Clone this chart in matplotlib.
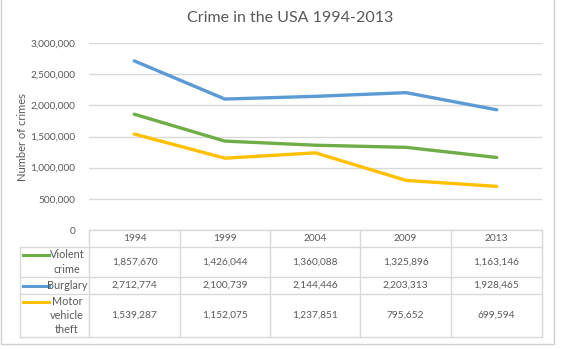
import matplotlib.pyplot as plt
from matplotlib.lines import Line2D

plt.rcParams['font.family'] = ['Lato', 'DejaVu Sans']

years = ['1994', '1999', '2004', '2009', '2013']
series_names = ['Violent\ncrime', 'Burglary', 'Motor\nvehicle\ntheft']
violent = [1857670, 1426044, 1360088, 1325896, 1163146]
burglary = [2712774, 2100739, 2144446, 2203313, 1928465]
motor = [1539287, 1152075, 1237851, 795652, 699594]
colors = ['#70AD47', '#5B9BD5', '#FFC000']

TEXT = '#595959'
GRID = '#D9D9D9'
W, H = 564, 349

fig = plt.figure(figsize=(W / 100, H / 100), dpi=100)


def px_axes(x0, y0, x1, y1):
    # axes placed by pixel box (top-left origin)
    return fig.add_axes([x0 / W, 1 - y1 / H, (x1 - x0) / W, (y1 - y0) / H])


# line chart
ax = px_axes(89, 43, 542, 230)
xs = [i + 0.5 for i in range(len(years))]
for vals, c in zip([violent, burglary, motor], colors):
    ax.plot(xs, vals, color=c, lw=2.4, solid_capstyle='round', zorder=3)
ax.set_xlim(0, len(years))
ax.set_ylim(0, 3000000)
ax.set_yticks(range(0, 3000001, 500000))
ax.set_yticklabels([f'{v:,}' for v in range(0, 3000001, 500000)])
ax.set_xticks([])
ax.grid(axis='y', color=GRID, lw=1)
ax.set_axisbelow(True)
for s in ax.spines.values():
    s.set_visible(False)
ax.tick_params(axis='y', length=0, pad=10, labelsize=7.3, labelcolor=TEXT)
fig.text(23 / W, 1 - 137 / H, 'Number of crimes', rotation=90, ha='center',
         va='center', fontsize=8, color=TEXT)
fig.text(290 / W, 1 - 18 / H, 'Crime in the USA 1994-2013', ha='center',
         va='center', fontsize=11.5, color=TEXT)

# data table
tax = px_axes(0, 0, W, H)
tax.set_xlim(0, W)
tax.set_ylim(H, 0)
tax.axis('off')

col_edges = [89, 180, 270, 360, 451, 542]
row_edges = [230, 247, 277, 294, 337]
lab_left = 20

kw = dict(color=GRID, lw=1)
tax.plot([col_edges[0], col_edges[-1]], [row_edges[0]] * 2, **kw)
for y in row_edges[1:]:
    tax.plot([lab_left, col_edges[-1]], [y, y], **kw)
for x in col_edges:
    tax.plot([x, x], [row_edges[0], row_edges[-1]], **kw)
tax.plot([lab_left, lab_left], [row_edges[1], row_edges[-1]], **kw)

for j, yr in enumerate(years):
    cx = (col_edges[j] + col_edges[j + 1]) / 2
    tax.text(cx, (row_edges[0] + row_edges[1]) / 2, yr, ha='center',
             va='center', fontsize=7.3, color=TEXT)

line_h = 13.5
for i, (name, vals, c) in enumerate(zip(series_names, [violent, burglary, motor], colors)):
    cy = (row_edges[i + 1] + row_edges[i + 2]) / 2
    n = name.count('\n') + 1
    first_y = cy - (n - 1) / 2 * line_h
    tax.add_line(Line2D([23, 49], [first_y, first_y], color=c, lw=2.2))
    tax.text(67, cy, name, ha='center', va='center', fontsize=7.8,
             color=TEXT, linespacing=1.35, multialignment='center')
    for j, v in enumerate(vals):
        cx = (col_edges[j] + col_edges[j + 1]) / 2
        tax.text(cx, cy, f'{v:,}', ha='center', va='center', fontsize=7.3,
                 color=TEXT)

# chart border
tax.plot([1, 1, 554, 554], [0, 344, 344, 0], color='#D0D0D0', lw=1)

fig.savefig('out.png', dpi=100)
